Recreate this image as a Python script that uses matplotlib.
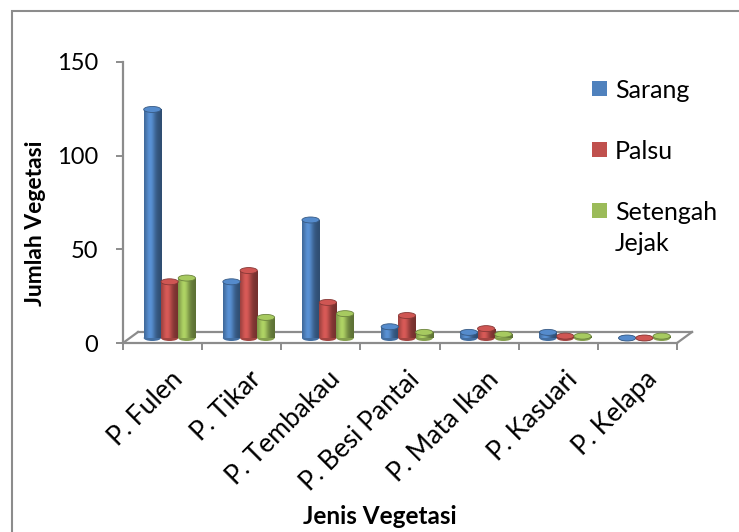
import numpy as np
import matplotlib
matplotlib.use("Agg")
import matplotlib.pyplot as plt
import matplotlib.transforms as mtransforms
from matplotlib.patches import Rectangle, Ellipse
from matplotlib.lines import Line2D

plt.rcParams['font.family'] = ['Lato', 'DejaVu Sans']

# data
kategori = ["P. Fulen", "P. Tikar", "P. Tembakau", "P. Besi Pantai",
            "P. Mata Ikan", "P. Kasuari", "P. Kelapa"]
sarang = [122, 30, 63, 6, 3, 3, 0]
palsu = [30, 36, 19, 12, 5, 1, 0]
setengah_jejak = [32, 11, 13, 3, 2, 1, 1]
seri = ["Sarang", "Palsu", "Setengah\nJejak"]
warna = ["#4F81BD", "#C0504D", "#9BBB59"]
y_ticks = [0, 50, 100, 150]

GRIS = "#8c8c8c"
W, H = 739, 532

fig = plt.figure(figsize=(W / 100, H / 100), dpi=100)
ax = fig.add_axes([123 / W, 189 / H, 554 / W, 281 / H])
ax.set_xlim(-0.5, len(kategori) - 0.5)
ax.set_ylim(0, 150)

# borde del grafico (solo se ve arriba e izquierda)
fig.add_artist(Rectangle((12 / W, -0.2), 1.5, 1.2 - 11 / H, fill=False,
                         edgecolor=GRIS, lw=1.5, transform=fig.transFigure))


def sombra(color):
    # degradado horizontal para simular un cilindro
    rgb = np.array(matplotlib.colors.to_rgb(color))
    t = np.linspace(0, 1, 64)
    f = 0.72 + 0.45 * np.exp(-((t - 0.35) / 0.28) ** 2) - 0.12 * t
    img = np.clip(rgb[None, :] * f[:, None], 0, 1)
    return img[None, :, :]


def oscuro(color, k):
    rgb = np.array(matplotlib.colors.to_rgb(color))
    return tuple(np.clip(rgb * k, 0, 1))


# barras a media profundidad del piso 3D
tr_barra = mtransforms.offset_copy(ax.transData, fig=fig, x=7, y=5, units='dots')
ancho = 0.218
alto_elipse = 3.2
valores = [sarang, palsu, setengah_jejak]

for k in range(len(kategori)):
    for i, vals in enumerate(valores):
        v = vals[k]
        x = k + (i - 1) * ancho
        c = warna[i]
        base = Ellipse((x, 0), ancho, alto_elipse, transform=tr_barra,
                       facecolor=oscuro(c, 0.85), edgecolor='none', zorder=3)
        ax.add_patch(base)
        if v > 0:
            rect = Rectangle((x - ancho / 2, 0), ancho, v, transform=tr_barra,
                             facecolor='none', edgecolor='none', zorder=4)
            ax.add_patch(rect)
            im = ax.imshow(sombra(c), extent=(x - ancho / 2, x + ancho / 2, 0, v),
                           aspect='auto', transform=tr_barra, zorder=4,
                           interpolation='bilinear')
            im.set_clip_path(rect)
        tapa = Ellipse((x, v), ancho, alto_elipse, transform=tr_barra,
                       facecolor=oscuro(c, 1.08), edgecolor=oscuro(c, 0.7),
                       lw=0.6, zorder=5)
        ax.add_patch(tapa)

ax.set_xlim(-0.5, len(kategori) - 0.5)
ax.set_ylim(0, 150)

# piso: linea trasera y diagonales
tr_fondo = mtransforms.offset_copy(ax.transData, fig=fig, x=15, y=11, units='dots')
ax.plot([-0.5, len(kategori) - 0.5], [0, 0], color=GRIS, lw=1.6,
        transform=tr_fondo, clip_on=False, zorder=2)
for xe in [-0.5, len(kategori) - 0.5]:
    p0 = ax.transData.transform((xe, 0))
    fig.add_artist(Line2D([p0[0], p0[0] + 15], [p0[1], p0[1] + 11], color=GRIS,
                          lw=1.6, transform=mtransforms.IdentityTransform()))

for lado in ['top', 'right']:
    ax.spines[lado].set_visible(False)
for lado in ['left', 'bottom']:
    ax.spines[lado].set_color(GRIS)
    ax.spines[lado].set_linewidth(1.6)
ax.patch.set_visible(False)

ax.set_yticks(y_ticks)
ax.tick_params(axis='y', length=5, width=1.4, color=GRIS, pad=13, labelsize=17)
ax.set_xticks(np.arange(-0.5, len(kategori), 1))
ax.set_xticklabels([])
ax.tick_params(axis='x', which='major', length=5, width=1.4, color=GRIS)
ax.set_xticks(np.arange(len(kategori)), minor=True)
ax.set_xticklabels(kategori, minor=True, rotation=45, ha='right',
                   rotation_mode='anchor', fontsize=19)
ax.tick_params(axis='x', which='minor', length=0, pad=17)
desplaza = mtransforms.ScaledTranslation(5 / 72, 0, fig.dpi_scale_trans)
for lab in ax.get_xticklabels(minor=True):
    lab.set_transform(lab.get_transform() + desplaza)

fig.text(36 / W, 1 - 223 / H, "Jumlah Vegetasi", rotation=90, ha='center',
         va='center', fontsize=16.5, fontweight='bold')
fig.text(380 / W, 1 - 517 / H, "Jenis Vegetasi", ha='center', va='center',
         fontsize=17.5, fontweight='bold')

# leyenda: cuadro alineado con la primera linea del texto
ley_y = [96, 157, 218]
for c, nombre, yb in zip(warna, seri, ley_y):
    fig.add_artist(Rectangle((592 / W, 1 - yb / H), 15 / W, 15 / H,
                             facecolor=c, edgecolor='none',
                             transform=fig.transFigure))
    fig.text(615 / W, 1 - (yb - 17) / H, nombre, ha='left', va='top',
             fontsize=18, linespacing=1.4)

fig.savefig("out.png", dpi=100)
